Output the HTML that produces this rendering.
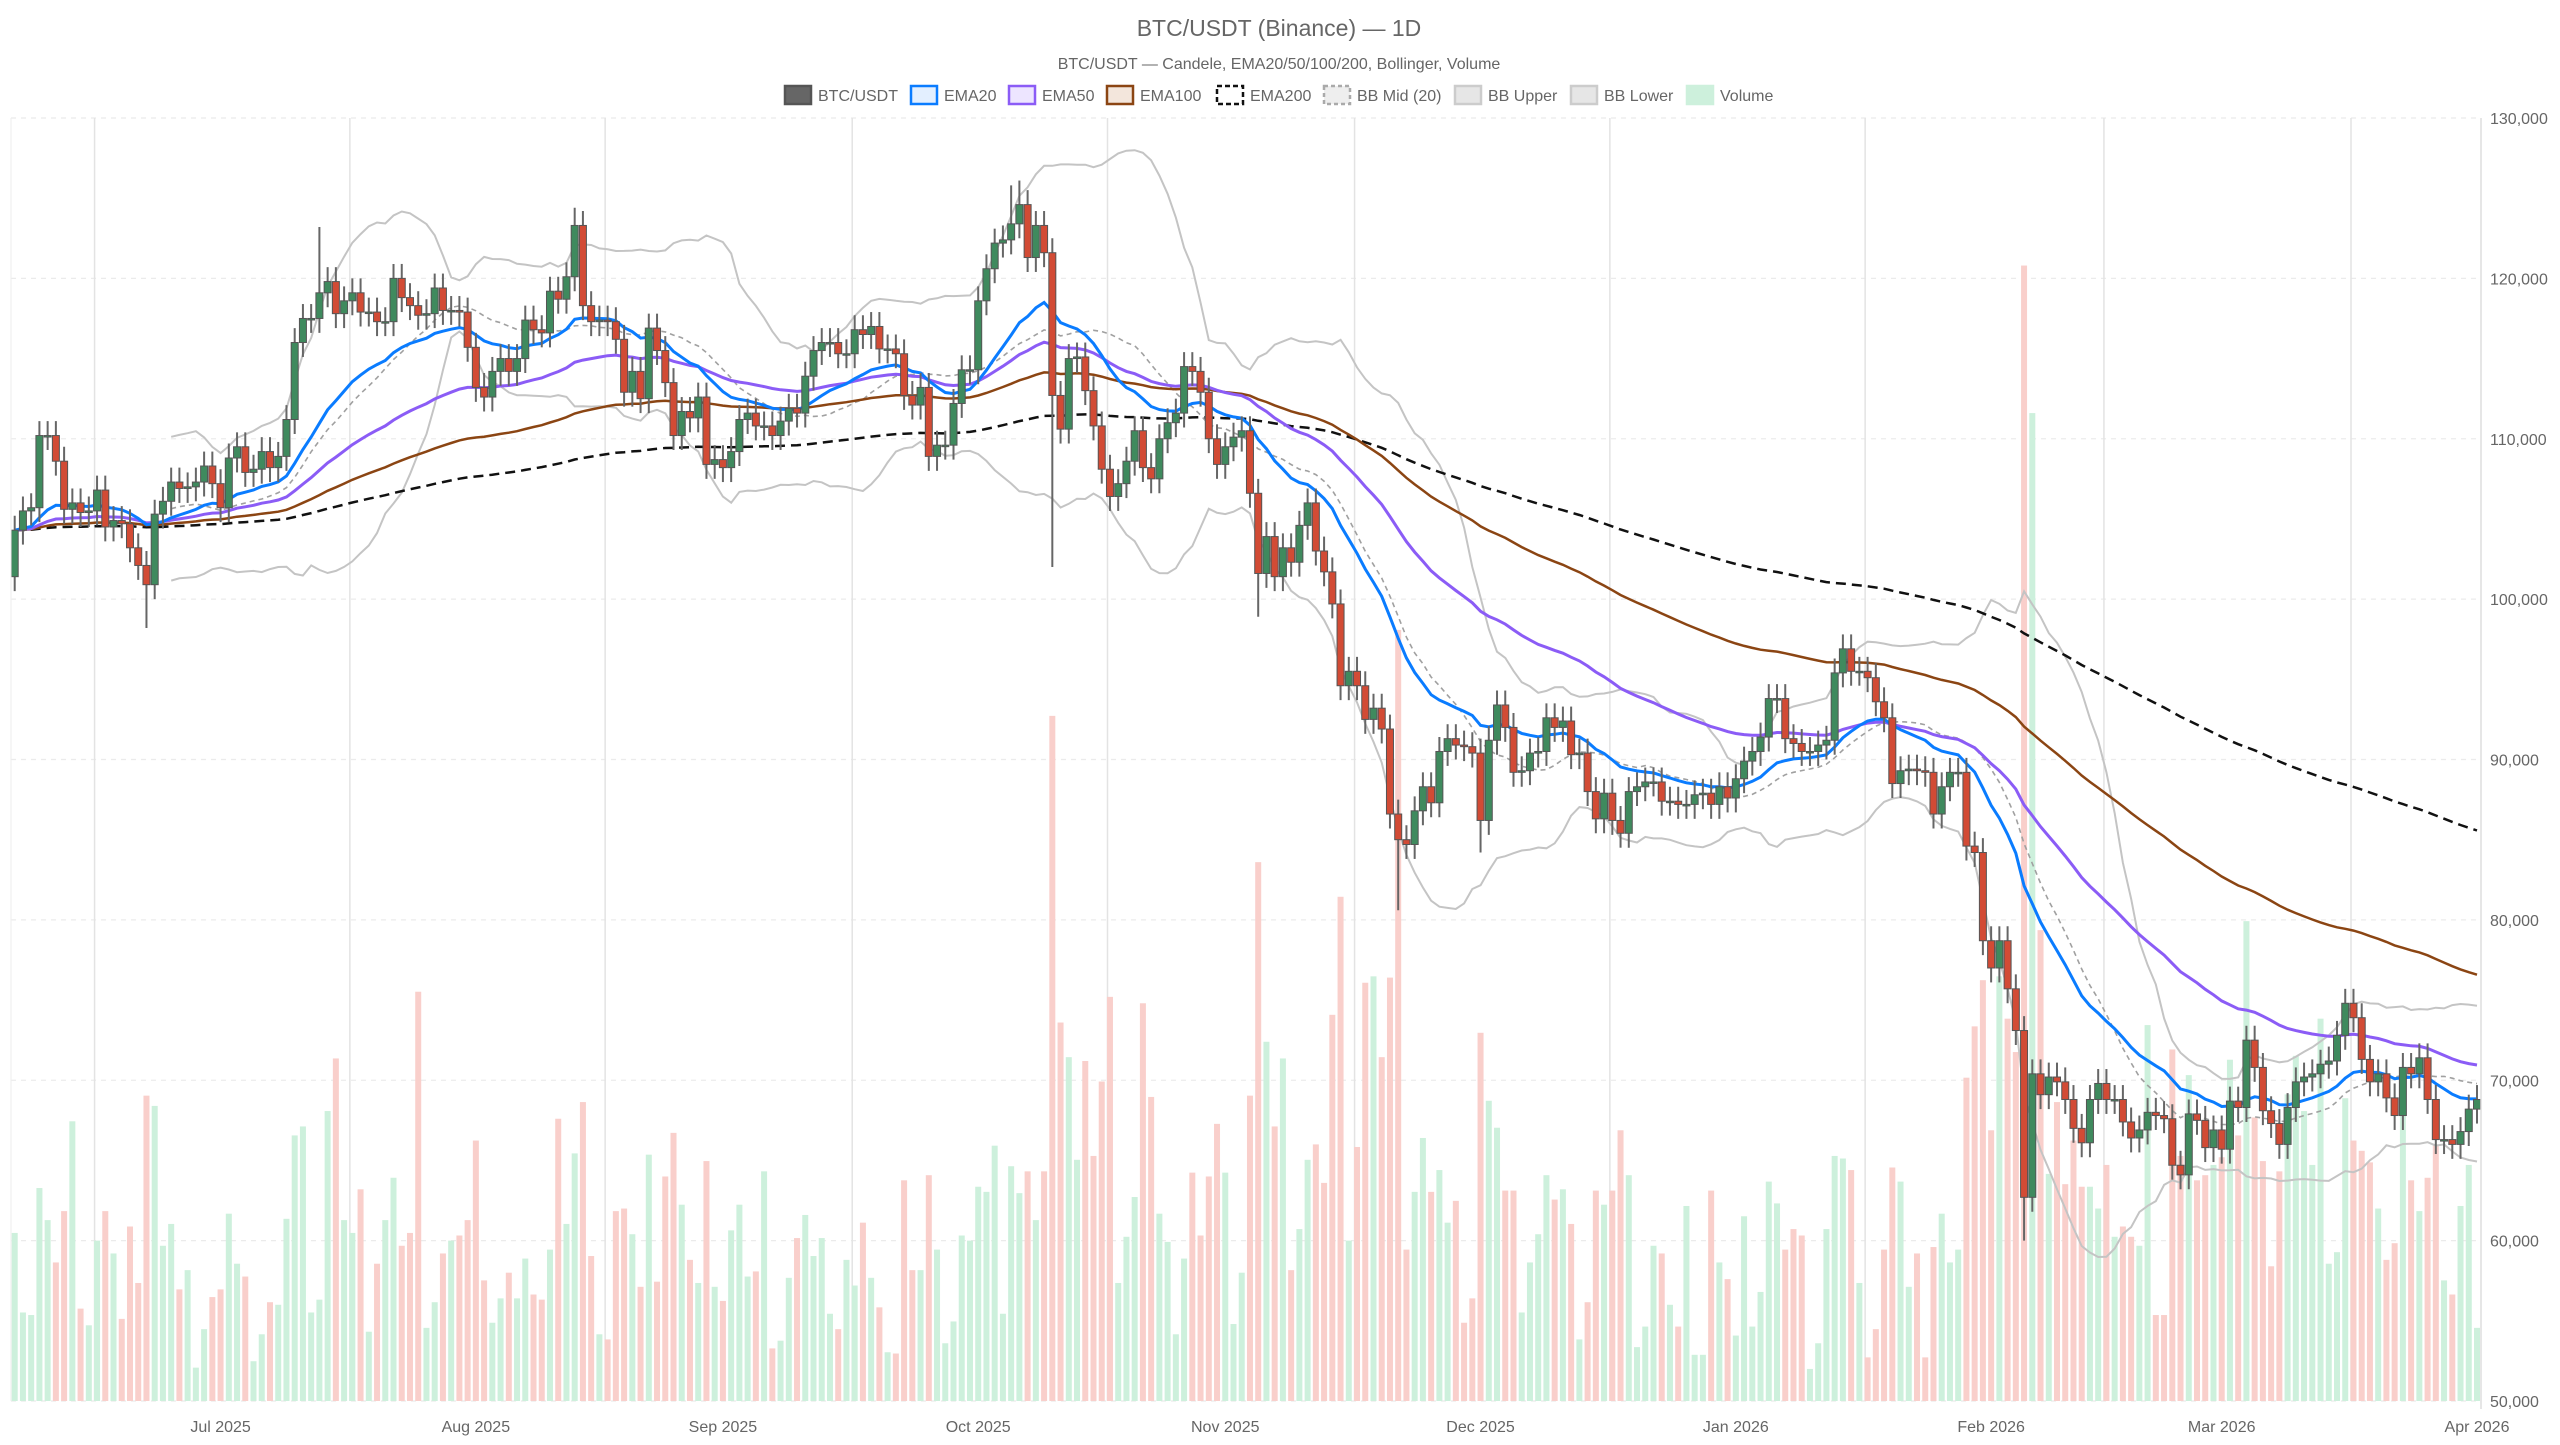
<!DOCTYPE html>
<html><head><meta charset="utf-8"><title>BTC/USDT (Binance) — 1D</title>
<style>
html,body{margin:0;padding:0;background:#fff;}
body{width:2560px;height:1440px;overflow:hidden;font-family:"Liberation Sans",sans-serif;}
svg text{font-family:"Liberation Sans",sans-serif;}
</style></head>
<body>
<svg id="chart" xmlns="http://www.w3.org/2000/svg" width="2560" height="1440" viewBox="0 0 2560 1440">
  <text x="1279" y="36" text-anchor="middle" font-size="23" fill="#666">BTC/USDT (Binance) — 1D</text>
  <text x="1279" y="69" text-anchor="middle" font-size="16" fill="#666">BTC/USDT — Candele, EMA20/50/100/200, Bollinger, Volume</text>
  <g id="legend"></g>
  <g id="grid"></g>
  <g id="volumes"></g>
  <g id="bands"></g>
  <g id="emas"></g>
  <g id="candles"></g>
  <g id="axes"></g>
</svg>
<script>
const closes=[104.3,105.5,105.7,110.2,110.2,108.6,105.6,106.0,105.4,105.5,
106.8,104.5,104.9,104.7,103.2,102.1,100.9,105.3,106.1,107.3,
106.9,107.0,107.3,108.3,107.2,105.7,108.8,109.5,107.9,108.1,
109.2,108.2,108.9,111.2,116.0,117.5,117.5,119.1,119.8,117.8,
118.6,119.1,117.9,117.9,117.3,117.3,120.0,118.8,118.3,117.7,
117.8,119.4,118.0,118.0,117.9,115.7,113.2,112.6,114.2,115.0,
114.2,115.0,117.4,116.8,116.6,119.2,118.7,120.1,123.3,118.3,
117.3,117.4,117.3,116.2,112.9,114.2,112.5,116.9,115.5,113.5,
110.2,111.7,111.3,112.6,108.4,108.7,108.2,109.2,111.2,111.6,
110.8,110.8,110.2,111.1,111.9,111.6,113.9,115.5,116.0,116.0,
115.3,115.3,116.8,116.5,117.0,115.6,115.6,115.3,112.7,112.1,
113.2,108.9,109.6,109.6,112.2,114.3,114.3,118.6,120.6,122.2,
122.4,123.4,124.6,121.3,123.3,121.6,112.7,110.6,115.0,115.1,
113.0,110.8,108.1,106.4,107.2,108.6,110.5,108.2,107.5,110.0,
111.0,111.6,114.5,114.2,112.9,110.0,108.4,109.5,110.1,110.5,
106.6,101.6,103.9,101.4,103.2,102.3,104.6,106.0,103.0,101.7,
99.7,94.6,95.5,94.6,92.5,93.2,91.9,86.6,85.0,84.7,
86.8,88.3,87.3,90.5,91.3,90.9,90.8,90.4,86.2,91.2,
93.4,92.0,89.2,89.3,90.4,90.5,92.6,92.0,92.4,90.3,
90.4,88.0,86.3,87.9,86.2,85.4,88.0,88.3,88.6,88.6,
87.4,87.4,87.2,87.2,87.8,87.9,87.2,88.3,87.6,88.8,
89.9,90.5,91.4,93.8,93.8,91.3,91.0,90.5,90.5,90.9,
91.2,95.4,96.9,95.5,95.5,95.1,93.6,92.6,88.5,89.3,
89.4,89.3,89.2,86.6,88.3,89.2,89.2,84.6,84.2,78.7,
77.0,78.7,75.7,73.1,62.7,70.4,69.1,70.2,69.9,68.8,
67.0,66.1,68.8,69.8,68.8,68.8,67.4,66.4,66.9,68.0,
67.8,67.6,64.7,64.1,67.9,67.5,65.8,66.9,65.7,68.7,
68.3,72.5,70.8,68.1,67.3,66.0,68.3,69.9,70.2,70.4,
71.0,71.2,72.8,74.8,73.9,71.3,69.9,70.4,68.9,67.8,
70.8,70.4,71.4,68.8,66.3,66.3,66.0,66.8,68.2,68.8];
const firstOpen=101.4;
const volumes=[13.1,6.9,6.7,16.6,14.1,10.8,14.8,21.8,7.2,5.9,
12.5,14.8,11.5,6.4,13.6,9.2,23.8,23.0,12.1,13.8,
8.7,10.2,2.6,5.6,8.1,8.7,14.6,10.7,9.7,3.1,
5.2,7.7,7.5,14.2,20.7,21.4,6.9,7.9,22.6,26.7,
14.1,13.1,16.5,5.4,10.7,14.1,17.4,12.1,13.1,31.9,
5.7,7.7,11.5,12.5,12.9,14.1,20.3,9.4,6.1,8.0,
10.0,8.0,11.1,8.3,7.9,11.8,22.0,13.8,19.3,23.3,
11.3,5.2,4.8,14.8,15.0,13.0,8.9,19.2,9.3,17.5,
20.9,15.3,11.0,9.2,18.7,8.9,7.8,13.3,15.3,9.7,
10.1,17.9,4.1,4.7,9.6,12.7,14.5,11.3,12.7,6.8,
5.6,11.0,9.0,13.9,9.6,7.3,3.8,3.7,17.2,10.2,
10.2,17.6,11.8,4.5,6.2,12.9,12.5,16.7,16.3,19.9,
6.8,18.3,16.2,17.9,14.1,17.9,53.4,29.5,26.8,18.8,
26.5,19.1,24.9,31.5,9.2,12.8,15.9,31.0,23.7,14.6,
12.4,5.2,11.1,17.8,12.9,17.5,21.6,17.8,6.0,10.0,
23.8,42.0,28.0,21.4,26.7,10.2,13.4,18.8,20.0,17.0,
30.1,39.3,12.5,19.8,32.6,33.1,26.8,33.0,60.1,11.8,
16.3,20.5,16.3,18.0,13.9,15.6,6.1,8.0,28.7,23.4,
21.3,16.4,16.4,6.9,10.8,13.0,17.6,15.7,16.5,13.8,
4.8,7.7,16.4,15.3,16.4,21.1,17.6,4.2,5.8,12.1,
11.5,7.5,5.8,15.2,3.6,3.6,16.4,10.8,9.5,5.1,
14.4,5.8,8.5,17.1,15.4,11.8,13.4,12.9,2.5,4.5,
13.4,19.1,18.9,18.0,9.2,3.4,5.6,11.8,18.2,17.1,
8.9,11.5,3.4,12.0,14.6,10.8,11.8,25.2,29.2,32.8,
21.1,33.1,29.8,27.2,88.5,77.0,36.7,17.7,23.3,16.9,
20.3,16.7,16.7,15.0,18.4,12.8,13.6,12.8,12.1,29.3,
6.7,6.7,27.4,19.1,25.4,17.2,17.6,18.4,19.0,26.6,
20.7,37.4,22.1,18.7,10.5,17.9,23.9,26.9,22.6,18.4,
29.8,10.7,11.6,23.6,20.3,19.5,18.6,15.0,11.0,12.3,
23.3,17.2,14.8,17.4,20.0,9.4,8.3,15.2,18.4,5.7];
const highIdx=[37,68,122,121];
const highVals=[123.2,124.4,126.1,125.8];
const lowIdx=[16,126,151,168,244,178];
const lowVals=[98.2,102.0,98.9,80.6,60.0,84.2];
const yTicks=[50,60,70,80,90,100,110,120,130];
const monthLabels=["Jul 2025","Aug 2025","Sep 2025","Oct 2025","Nov 2025","Dec 2025","Jan 2026","Feb 2026","Mar 2026","Apr 2026"];
const monthLabelIdx=[25,56,86,117,147,178,209,240,268,299];
const monthGridIdx=[9,40,71,101,132,162,193,224,253,283];

const NS="http://www.w3.org/2000/svg";
const L=11,R=2481,T=118,B=1401;
const N=closes.length;
const X0=14.7,X1=2477;
function xS(i){return X0+(X1-X0)*i/(N-1);}
function yS(p){return B-(p-50)/(130-50)*(B-T);}
function vS(v){return B-v/100*(B-T);}
function mk(tag,attrs,parent){const e=document.createElementNS(NS,tag);for(const k in attrs)e.setAttribute(k,attrs[k]);parent.appendChild(e);return e;}

const grid=document.getElementById('grid');
yTicks.forEach(t=>{
  const l=mk('line',{x1:L,x2:R,y1:yS(t),y2:yS(t),stroke:'#ebebeb','stroke-width':1.3,'stroke-dasharray':'5,5'},grid);
  
  
});
monthGridIdx.forEach(i=>{
  const gx=xS(i+0.7);
  const l=mk('line',{x1:gx,x2:gx,y1:T,y2:B,stroke:'#e3e3e3','stroke-width':1.5},grid);
  
  
});

const axes=document.getElementById('axes');
const al=mk('line',{x1:R,x2:R,y1:T,y2:B+8,stroke:'#ddd','stroke-width':1.5},axes);


const lal=mk('line',{x1:L,x2:L,y1:T,y2:B,stroke:'#eee','stroke-width':1},axes);


yTicks.forEach(t=>{
  const tx=mk('text',{x:2490,y:yS(t)+6,'font-size':16,fill:'#666'},axes);
  tx.textContent=(t*1000).toLocaleString('en-US');
  
  
});
monthLabels.forEach((m,k)=>{
  const tx=mk('text',{x:xS(monthLabelIdx[k]),y:1432,'font-size':16,fill:'#666','text-anchor':'middle'},axes);
  tx.textContent=m;
  
  
});

const opens=closes.map((c,i)=>i===0?firstOpen:closes[i-1]);
const highs=closes.map((c,i)=>Math.max(c,opens[i])+0.9);
const lows=closes.map((c,i)=>Math.min(c,opens[i])-0.9);
highIdx.forEach((i,k)=>{highs[i]=highVals[k];});
lowIdx.forEach((i,k)=>{lows[i]=lowVals[k];});

const vg=document.getElementById('volumes');
const bw=6;
volumes.forEach((v,i)=>{
  const up=closes[i]>=opens[i];
  const r=mk('rect',{x:xS(i)-bw/2,y:vS(v),width:bw,height:B-vS(v),fill:up?'#cdf0dc':'#f9cfcb'},vg);
  
  
});

function ema(arr,n){const a=2/(n+1);const out=[];let e=arr[0];arr.forEach((v,i)=>{e=i===0?v:v*a+e*(1-a);out.push(e);});return out;}
function path(vals,start){let d='';vals.forEach((v,i)=>{if(i<start||v==null)return;d+=(d?'L':'M')+xS(i).toFixed(1)+','+yS(v).toFixed(1);});return d;}

const mid=[],up=[],lo=[];
for(let i=0;i<N;i++){
  if(i<19){mid.push(null);up.push(null);lo.push(null);continue;}
  const s=closes.slice(i-19,i+1);const m=s.reduce((a,b)=>a+b,0)/20;
  const sd=Math.sqrt(s.reduce((a,b)=>a+(b-m)*(b-m),0)/20);
  mid.push(m);up.push(m+2*sd);lo.push(m-2*sd);
}
const bg=document.getElementById('bands');
const bu=mk('path',{d:path(up,19),fill:'none',stroke:'#c4c4c4','stroke-width':2},bg);


const bl=mk('path',{d:path(lo,19),fill:'none',stroke:'#c4c4c4','stroke-width':2},bg);


const bm=mk('path',{d:path(mid,19),fill:'none',stroke:'#a0a0a0','stroke-width':1.6,'stroke-dasharray':'5,4'},bg);



const eg=document.getElementById('emas');
const e200=mk('path',{d:path(ema(closes,200),0),fill:'none',stroke:'#111','stroke-width':2.5,'stroke-dasharray':'10,6'},eg);


const e100=mk('path',{d:path(ema(closes,100),0),fill:'none',stroke:'#8b4513','stroke-width':2.5},eg);


const e50=mk('path',{d:path(ema(closes,50),0),fill:'none',stroke:'#8b5cf6','stroke-width':3},eg);


const e20=mk('path',{d:path(ema(closes,20),0),fill:'none',stroke:'#0a7cff','stroke-width':3},eg);



const cg=document.getElementById('candles');
closes.forEach((c,i)=>{
  const o=opens[i];const x=xS(i);const isUp=c>=o;
  const w=mk('line',{x1:x,x2:x,y1:yS(highs[i]),y2:yS(lows[i]),stroke:'#666','stroke-width':2},cg);
  
  
  const top=yS(Math.max(o,c)),bot=yS(Math.min(o,c));
  const r=mk('rect',{x:x-3.5,y:top,width:7,height:Math.max(1.5,bot-top),fill:isUp?'#3f8a5e':'#d24b35',stroke:'#555','stroke-width':1},cg);
  
  
});

const lg=document.getElementById('legend');
const legendNames=["BTC/USDT","EMA20","EMA50","EMA100","EMA200","BB Mid (20)","BB Upper","BB Lower","Volume"];
const legendX=[785,911,1009,1107,1217,1324,1455,1571,1687];
const legendFill=['#666','#e3efff','#ede5ff','#f3e6dc','#fff','#eee','#e6e6e6','#e6e6e6','#cdf0dc'];
const legendStroke=['#555','#0a7cff','#8b5cf6','#8b4513','#111','#aaa','#ccc','#ccc','#cdf0dc'];
const legendDash=['','','','','5,3','4,3','','',''];
legendNames.forEach((n,k)=>{
  const g=mk('g',{},lg);
  
  
  const a={x:legendX[k],y:86,width:26,height:18,fill:legendFill[k],stroke:legendStroke[k],'stroke-width':2.5};
  if(legendDash[k])a['stroke-dasharray']=legendDash[k];
  mk('rect',a,g);
  const t=mk('text',{x:legendX[k]+33,y:101,'font-size':16,fill:'#666'},g);
  t.textContent=n;
});
</script>
</body></html>
